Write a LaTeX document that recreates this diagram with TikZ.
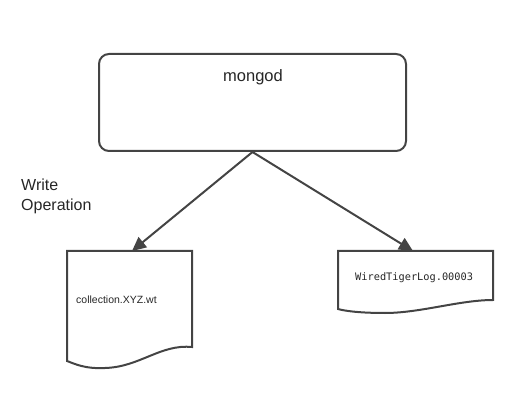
\documentclass[tikz,border=0pt]{standalone}
\usepackage{fontspec}
\setmainfont{Liberation Sans}
\setmonofont{DejaVu Sans Mono}
\usetikzlibrary{arrows.meta}
\definecolor{linegray}{HTML}{444444}
\tikzset{
  box/.style={draw=linegray, line width=2pt, rounded corners=10pt, inner sep=0pt},
  doc/.style={draw=linegray, line width=2pt, line join=miter},
  conn/.style={draw=linegray, line width=2pt, -{Triangle[length=14pt, width=13pt]}},
  label/.style={text=black!85, inner sep=0pt}
}
\begin{document}
\begin{tikzpicture}[x=1pt, y=-1pt]
  \useasboundingbox (0,0) rectangle (517,406);

  % mongod box
  \node[box, minimum width=307pt, minimum height=97pt, anchor=north west] (mongod) at (98,53) {};
  \node[label, font=\fontsize{16.5}{19}\selectfont] (mongodtext) at (253,77) {mongod};

  % Write Operation label
  \node[label, anchor=north west, align=left, font=\fontsize{16}{20}\selectfont] (writeop) at (21,179) {Write\\Operation};

  % Data file
  \draw[doc] (67,251) -- (192,251) -- (192,347)
    .. controls (160,344) and (140,367) .. (105,368)
    .. controls (85,369) and (75,364) .. (67,361) -- cycle;
  \coordinate (datatop) at (132,251);
  \node[label, anchor=west, font=\fontsize{10.5}{12}\selectfont] (datafile) at (76,300) {collection.XYZ.wt};

  % Log file
  \draw[doc] (338,251) -- (493,251) -- (493,300)
    .. controls (460,300) and (420,313) .. (385,313)
    .. controls (360,313) and (345,311) .. (338,309) -- cycle;
  \coordinate (logtop) at (413,251);
  \node[label, anchor=west, font=\ttfamily\fontsize{10.3}{12}\selectfont] (logfile) at (355,278) {WiredTigerLog.00003};

  % Arrows
  \draw[conn] (mongod.south) -- (datatop);
  \draw[conn] (mongod.south) -- (logtop);
\end{tikzpicture}
\end{document}
